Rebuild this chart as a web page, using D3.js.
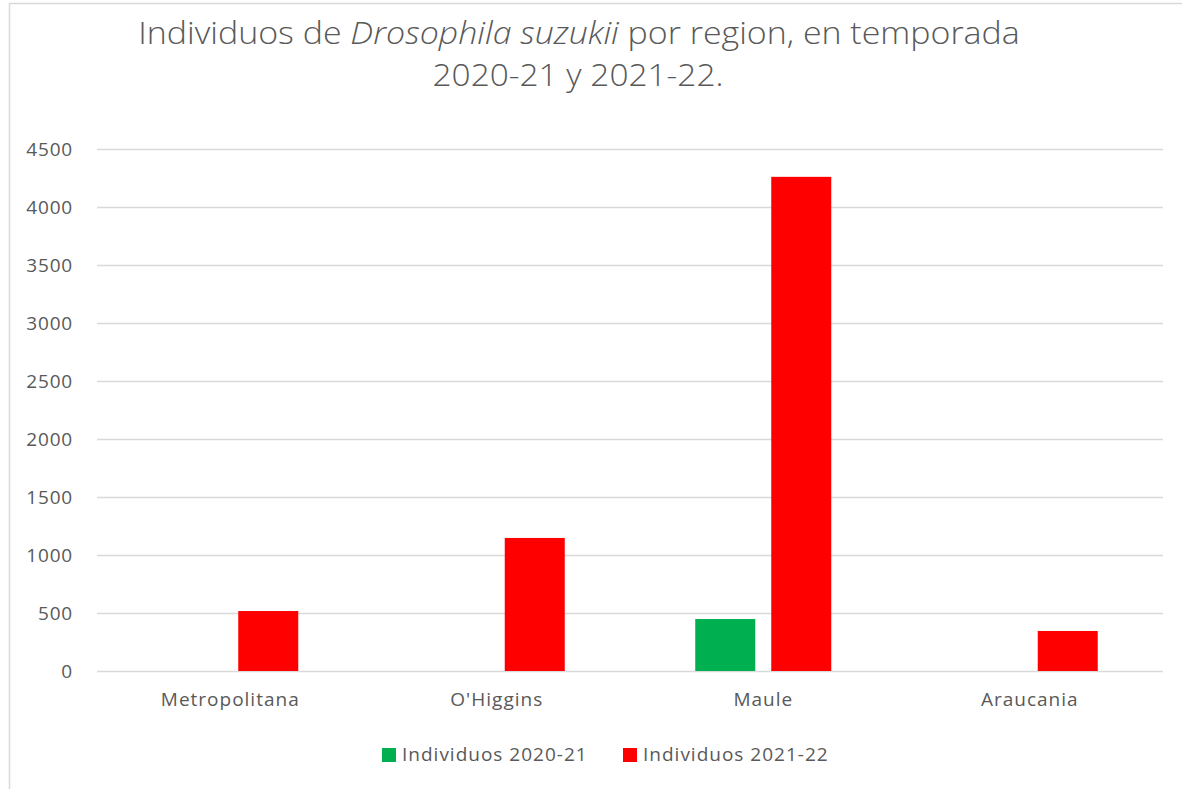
<!DOCTYPE html>
<html><head><meta charset="utf-8">
<script src="https://cdn.jsdelivr.net/npm/d3@7"></script>
<style>body{margin:0;background:#fff}svg{display:block}</style>
</head><body>
<script>
const categories = ["Metropolitana", "O'Higgins", "Maule", "Araucania"];
const seriesNames = ["Individuos 2020-21", "Individuos 2021-22"];
const values2020 = [0, 0, 448, 0];
const values2021 = [517, 1147, 4260, 345];
const yTicks = [0, 500, 1000, 1500, 2000, 2500, 3000, 3500, 4000, 4500];
const colors = ["#00b050", "#ff0000"];

(function () {
const W = 1182, H = 789;
const svg = d3.select("body").append("svg").attr("width", W).attr("height", H);
// chart frame
svg.append("line").attr("x1", 9.5).attr("x2", 9.5).attr("y1", 3).attr("y2", H).attr("stroke", "#d9d9d9").attr("stroke-width", 1.5);
svg.append("line").attr("x1", 9).attr("x2", W).attr("y1", 3.5).attr("y2", 3.5).attr("stroke", "#d9d9d9").attr("stroke-width", 1.5);

const titleFont = "'Open Sans','Noto Sans',sans-serif";
function fitX(sel, cx, width) {
  const len = sel.node().getComputedTextLength();
  const s = width / len;
  sel.attr("transform", `translate(${cx},0) scale(${s},1) translate(${-cx},0)`);
}
const t1 = svg.append("text").attr("x", 579).attr("y", 44).attr("text-anchor", "middle")
  .attr("font-family", titleFont).attr("font-weight", 300).attr("font-size", 32).attr("fill", "#595959");
t1.append("tspan").text("Individuos de ");
t1.append("tspan").attr("font-style", "italic").text("Drosophila suzukii");
t1.append("tspan").text(" por region, en temporada");
fitX(t1, 579, 882);
const t2 = svg.append("text").attr("x", 578).attr("y", 86).attr("text-anchor", "middle")
  .attr("font-family", titleFont).attr("font-weight", 300).attr("font-size", 32).attr("fill", "#595959").text("2020-21 y 2021-22.");
fitX(t2, 578, 291);

const pl = 97, pr = 1163, pt = 149, pb = 671;
const x = d3.scaleBand().domain(categories).range([pl, pr]);
const y = d3.scaleLinear().domain([0, 4500]).range([pb, pt]);
const xs = d3.scaleBand().domain(seriesNames).range([0, 136]).paddingInner(16/76);

const axFont = "'Open Sans','Noto Sans',sans-serif";
const yAxis = svg.append("g").attr("transform", `translate(${pl},0)`)
  .call(d3.axisLeft(y).tickValues(yTicks).tickFormat(d3.format("d")).tickSize(-(pr - pl)).tickPadding(24));
yAxis.select(".domain").remove();
yAxis.selectAll(".tick line").attr("stroke", "#d9d9d9").attr("stroke-width", 1.5);
yAxis.selectAll(".tick text").attr("font-family", axFont).attr("font-size", 19).attr("letter-spacing", 0.8).attr("fill", "#595959");

const series = [values2020, values2021];
series.forEach((vals, si) => {
  svg.append("g").selectAll("rect").data(categories.map((c, i) => ({c, v: vals[i]})).filter(d => d.v > 0))
    .join("rect")
    .attr("x", d => x(d.c) + x.bandwidth() / 2 - 68 + xs(seriesNames[si]))
    .attr("width", xs.bandwidth())
    .attr("y", d => y(d.v))
    .attr("height", d => y(0) - y(d.v))
    .attr("fill", colors[si]);
});

const xAxis = svg.append("g").attr("transform", `translate(0,${pb})`)
  .call(d3.axisBottom(x).tickSize(0).tickPadding(22));
xAxis.select(".domain").remove();
xAxis.selectAll(".tick text").attr("font-family", axFont).attr("font-size", 19).attr("letter-spacing", 1).attr("fill", "#595959");

// legend
const legX = [382, 623];
seriesNames.forEach((n, i) => {
  svg.append("rect").attr("x", legX[i]).attr("y", 748).attr("width", 14).attr("height", 14).attr("fill", colors[i]);
  svg.append("text").attr("x", legX[i] + 20).attr("y", 761).attr("font-family", axFont).attr("font-size", 19)
    .attr("letter-spacing", 1).attr("fill", "#595959").text(n);
});
})();
</script>
</body></html>
